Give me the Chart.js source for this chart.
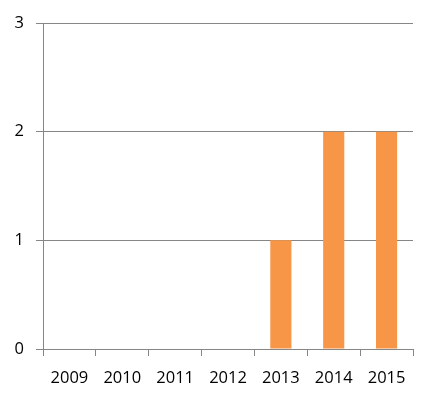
<!DOCTYPE html>
<html>
<head>
<meta charset="utf-8">
<script src="https://cdn.jsdelivr.net/npm/chart.js@4/dist/chart.umd.min.js"></script>
<style>
  body { margin: 0; background: #fff; }
  canvas { display: block; }
</style>
</head>
<body>
<canvas id="yearChart" width="436" height="403"></canvas>
<script>
const years = ['2009', '2010', '2011', '2012', '2013', '2014', '2015'];
const counts = [0, 0, 0, 0, 1, 2, 2];
const yTicks = [0, 1, 2, 3];

const lineGray = '#868686';
const barOrange = '#F79646';

const ctx = document.getElementById('yearChart').getContext('2d');
new Chart(ctx, {
    type: 'bar',
    data: {
        labels: years,
        datasets: [
            {
                data: counts,
                backgroundColor: barOrange,
                borderWidth: 0,
                barPercentage: 0.4,
                categoryPercentage: 1
            }
        ]
    },
    options: {
        responsive: false,
        animation: false,
        layout: { padding: { top: 23, right: 23, left: 0, bottom: 0 } },
        plugins: { legend: { display: false }, tooltip: { enabled: false } },
        scales: {
            x: {
                grid: {
                    offset: true,
                    drawOnChartArea: false,
                    drawTicks: true,
                    tickLength: 7,
                    color: lineGray
                },
                border: { color: lineGray },
                ticks: {
                    color: '#000',
                    padding: 12,
                    maxRotation: 0,
                    font: { family: 'Open Sans', size: 16.5 }
                },
                afterFit: (scale) => { scale.height = 54; }
            },
            y: {
                min: yTicks[0],
                max: yTicks[yTicks.length - 1],
                grid: { color: lineGray, tickLength: 7 },
                border: { color: lineGray },
                ticks: {
                    stepSize: 1,
                    color: '#000',
                    padding: 12,
                    font: { family: 'Open Sans', size: 16.5 }
                },
                afterFit: (scale) => { scale.width = 43; }
            }
        }
    }
});
</script>
</body>
</html>
